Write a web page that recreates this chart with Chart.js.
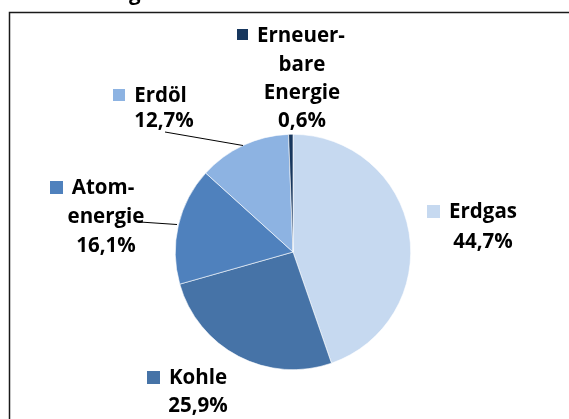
<!DOCTYPE html>
<html>
<head>
<meta charset="utf-8">
<script src="https://cdn.jsdelivr.net/npm/chart.js@4/dist/chart.umd.min.js"></script>
<style>
html,body{margin:0;padding:0;background:#fff;}
#wrap{position:relative;width:569px;height:419px;}
</style>
</head>
<body>
<div id="wrap"><canvas id="c" width="569" height="419"></canvas></div>
<script>
const categories = ["Erdgas", "Kohle", "Atomenergie", "Erdöl", "Erneuerbare Energie"];
const labelLines = [["Erdgas"], ["Kohle"], ["Atom-", "energie"], ["Erdöl"], ["Erneuer-", "bare", "Energie"]];
const shares = [44.7, 25.9, 16.1, 12.7, 0.6];
const colors = ["#C6D9F0", "#4673A7", "#4F81BD", "#8DB3E2", "#17375E"];
const titleFragment = "g";

// label layout: first-line span center, other-lines center, baselines
const layout = [
  {c1: 472, c2: 483, y: [218, 248], sq: 13},
  {c1: 187, c2: 198, y: [384, 412], sq: 13},
  {c1: 92, c2: 106, y: [194, 223, 252], sq: 13},
  {c1: 150, c2: 164, y: [102, 127], sq: 12},
  {c1: 291, c2: 302, y: [42, 71, 99, 127], sq: 11}
];
const leaders = [null, null, [[140, 222], [177, 224.5]], [[165, 132], [243, 145.5]], null];

const FONT = "bold 20.5px 'Open Sans'";

const labelPlugin = {
  id: 'labels',
  afterDraw(chart) {
    const ctx = chart.ctx;
    ctx.save();
    // frame
    ctx.strokeStyle = '#1a1a1a';
    ctx.lineWidth = 1.5;
    ctx.beginPath();
    ctx.moveTo(9.5, 419);
    ctx.lineTo(9.5, 12.5);
    ctx.lineTo(569, 12.5);
    ctx.stroke();
    // title fragment (cut off at top)
    ctx.fillStyle = '#000';
    ctx.font = FONT;
    ctx.textBaseline = 'alphabetic';
    ctx.textAlign = 'left';
    ctx.fillText(titleFragment, 129, 0);
    // leaders
    ctx.strokeStyle = '#000';
    ctx.lineWidth = 1;
    leaders.forEach(l => {
      if (!l) return;
      ctx.beginPath();
      ctx.moveTo(l[0][0], l[0][1]);
      for (let i = 1; i < l.length; i++) ctx.lineTo(l[i][0], l[i][1]);
      ctx.stroke();
    });
    // labels
    categories.forEach((cat, i) => {
      const L = layout[i];
      const lines = labelLines[i].concat([shares[i].toFixed(1).replace('.', ',') + '%']);
      ctx.font = FONT;
      ctx.fillStyle = '#000';
      lines.forEach((t, k) => {
        if (k === 0) {
          const tw = ctx.measureText(t).width;
          const gap = 9;
          const total = L.sq + gap + tw;
          const x0 = L.c1 - total / 2;
          ctx.fillStyle = colors[i];
          ctx.fillRect(Math.round(x0), Math.round(L.y[0] - 13.5), L.sq, L.sq);
          ctx.fillStyle = '#000';
          ctx.textAlign = 'left';
          ctx.fillText(t, x0 + L.sq + gap, L.y[0]);
        } else {
          ctx.textAlign = 'center';
          ctx.fillText(t, L.c2, L.y[k]);
        }
      });
    });
    ctx.restore();
  }
};

new Chart(document.getElementById('c'), {
  type: 'pie',
  data: {
    labels: categories,
    datasets: [{
      data: shares,
      backgroundColor: colors,
      borderColor: '#ffffff',
      borderWidth: 0.6
    }]
  },
  options: {
    responsive: false,
    animation: false,
    layout: {padding: {left: 175, right: 158, top: 134, bottom: 49}},
    plugins: {legend: {display: false}, tooltip: {enabled: false}, title: {display: false}}
  },
  plugins: [labelPlugin]
});
</script>
</body>
</html>
